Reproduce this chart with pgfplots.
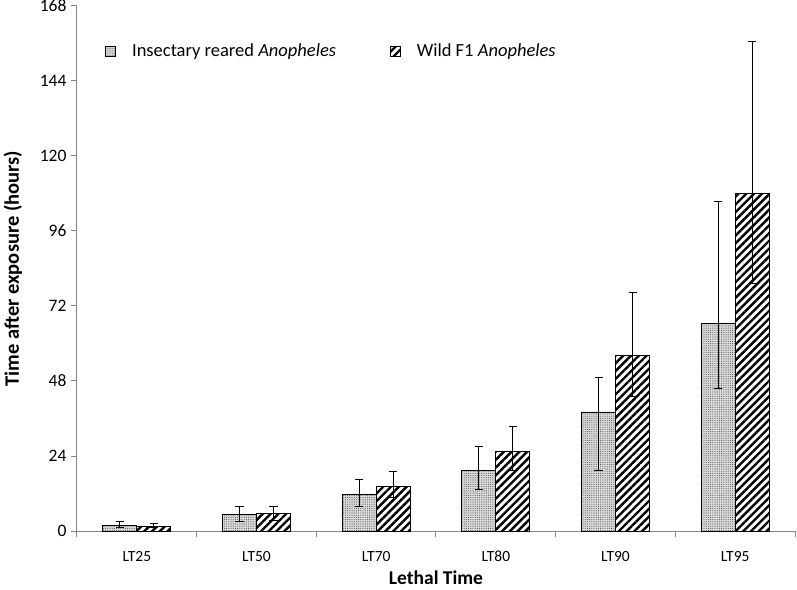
\documentclass[border=0pt]{standalone}
\usepackage{pgfplots}
\pgfplotsset{compat=1.18}
\usetikzlibrary{patterns.meta}
\usepackage{fontspec}
\setmainfont{Carlito}
\definecolor{axgray}{RGB}{134,134,134}
\begin{document}
\begin{tikzpicture}
\begin{axis}[
  scale only axis,
  width=718bp, height=525bp,
  ybar=0pt, bar width=34bp,
  xmin=-0.5, xmax=5.5,
  ymin=0, ymax=168,
  ytick={0,24,...,168},
  xtick={-0.5,0.5,...,5.5},
  x tick label as interval=true,
  xticklabels={LT25,LT50,LT70,LT80,LT90,LT95},
  axis x line*=bottom, axis y line*=left,
  axis line style={axgray, line width=1bp, -},
  tick style={axgray, line width=1bp},
  tick align=outside,
  major tick length=6bp,
  /pgf/number format/assume math mode=true,
  tick label style={font=\fontsize{15.5bp}{18bp}\selectfont, text=black},
  y tick label style={font=\fontsize{17.5bp}{20bp}\selectfont, xshift=-1bp},
  x tick label style={anchor=base, text height=11bp, text depth=3bp, yshift=-24bp},
  ylabel={Time after exposure (hours)},
  xlabel={Lethal Time},
  ylabel style={font=\fontsize{20.5bp}{24bp}\selectfont\bfseries,
    at={(axis description cs:0,0.5)}, anchor=center, xshift=0bp, yshift=64bp},
  xlabel style={font=\fontsize{19.5bp}{22bp}\selectfont\bfseries,
    at={(axis description cs:0.5,0)}, anchor=center, yshift=-47bp},
  legend columns=2,
  legend style={draw=none, fill=none, at={(0.035,0.914)}, anchor=west,
    font=\fontsize{18.5bp}{21bp}\selectfont,
    /tikz/every odd column/.append style={column sep=14bp},
    /tikz/every even column/.append style={column sep=52bp}},
  legend image code/.code={\draw[#1] (0bp,-5bp) rectangle (10bp,5bp);},
  error bars/y dir=both, error bars/y explicit,
  error bars/error bar style={black, line width=1bp},
  error bars/error mark options={rotate=90, mark size=4bp, line width=1bp, black},
]
\addplot[draw=black, line width=0.8bp, fill=black!15,
  postaction={pattern={Dots[distance=2.2bp, radius=0.55bp]}, pattern color=black!65}]
coordinates {
 (0,1.8)   += (0,1.1)  -= (0,0.7)
 (1,5.2)   += (0,2.5)  -= (0,2.0)
 (2,11.7)  += (0,4.8)  -= (0,3.8)
 (3,19.3)  += (0,7.8)  -= (0,5.9)
 (4,38.1)  += (0,10.9) -= (0,18.6)
 (5,66.5)  += (0,38.8) -= (0,21.0)
};
\addlegendentry{Insectary reared \textit{Anopheles}}
\addplot[draw=black, line width=0.8bp, fill=white,
  postaction={pattern={Lines[angle=45, distance=5.5bp, line width=2.4bp]}, pattern color=black}]
coordinates {
 (0,1.5)   += (0,1.0)  -= (0,0.5)
 (1,5.7)   += (0,2.0)  -= (0,2.2)
 (2,14.4)  += (0,4.6)  -= (0,3.6)
 (3,25.4)  += (0,7.9)  -= (0,6.1)
 (4,56.1)  += (0,20.1) -= (0,13.1)
 (5,108.1) += (0,48.6) -= (0,28.8)
};
\addlegendentry{Wild F1 \textit{Anopheles}}
\end{axis}
\pgfresetboundingbox
\path (current axis.south west) ++(-77bp,-59bp) rectangle ++(797bp,590bp);
\end{tikzpicture}
\end{document}
